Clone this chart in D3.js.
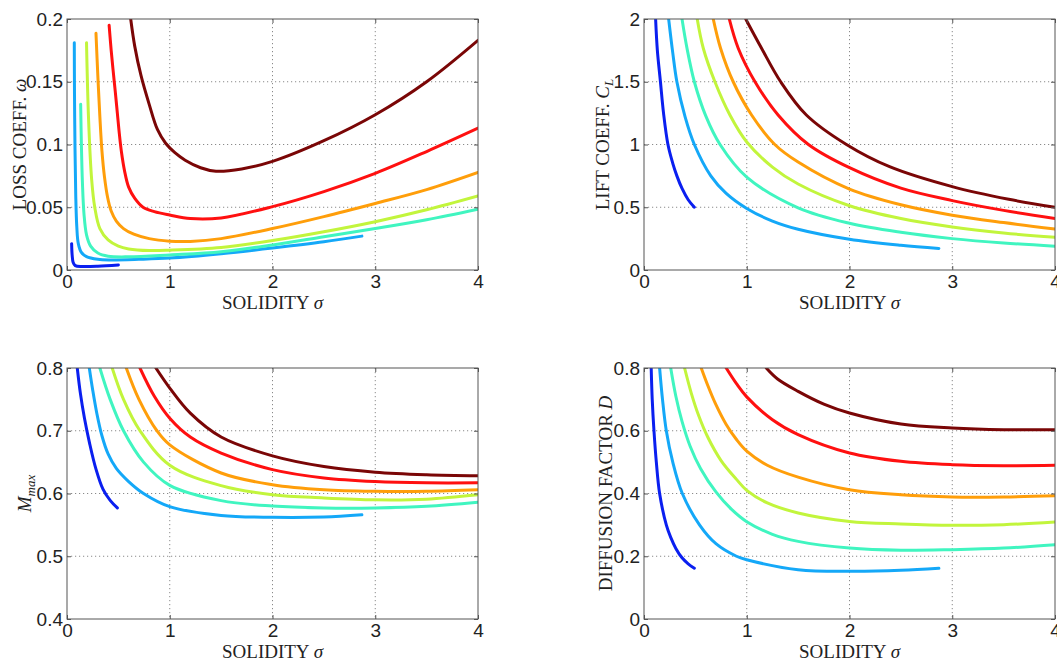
<!DOCTYPE html>
<html>
<head>
<script src="https://d3js.org/d3.v7.min.js"></script>
<style>
  body { margin: 0; background: #fff; }
  .tick text { font: 19px "Liberation Sans", Arial, sans-serif; fill: #222; }
  .tick line { stroke: #555; }
  .grid line { stroke: #8a8a8a; stroke-width: 1; stroke-dasharray: 1.2,2.8; }
  .curve { fill: none; stroke-width: 3; stroke-linejoin: round; stroke-linecap: round; }
  .lbl { font: 19px "Liberation Serif", "Times New Roman", serif; fill: #222; }
</style>
</head>
<body>
<div id="chart"></div>
<script>
// jet-like colours, one per curve (low -> high)
var colors = ["#0a1ff0", "#14a8f8", "#40f5c0", "#c2f53c", "#ff9e0a", "#ff1010", "#7a0606"];

var xTicks = [0, 1, 2, 3, 4];
var lossTicks = [0, 0.05, 0.1, 0.15, 0.2];
var liftTicks = [0, 0.5, 1, 1.5, 2];
var machTicks = [0.4, 0.5, 0.6, 0.7, 0.8];
var diffTicks = [0, 0.2, 0.4, 0.6, 0.8];

// [solidity, value] pairs
var lossCurves = [
  [[0.045,0.021],[0.05,0.012],[0.06,0.006],[0.08,0.0035],[0.15,0.0028],[0.3,0.003],[0.5,0.004]],
  [[0.071,0.181],[0.073,0.14],[0.078,0.096],[0.085,0.06],[0.095,0.035],[0.11,0.021],[0.14,0.014],[0.19,0.0106],[0.3,0.0085],[0.42,0.008],[0.7,0.0085],[1.0,0.0095],[1.5,0.013],[2.0,0.0175],[2.5,0.0225],[2.87,0.027]],
  [[0.133,0.132],[0.14,0.1],[0.15,0.07],[0.165,0.045],[0.19,0.028],[0.23,0.019],[0.3,0.0135],[0.4,0.011],[0.6,0.0105],[1.0,0.012],[1.5,0.0145],[2.0,0.02],[2.5,0.0265],[3.0,0.033],[3.5,0.04],[4.0,0.0484]],
  [[0.19,0.181],[0.21,0.12],[0.24,0.072],[0.27,0.05],[0.32,0.033],[0.4,0.024],[0.5,0.019],[0.6,0.0168],[0.8,0.0155],[1.0,0.0158],[1.5,0.018],[2.0,0.0235],[2.5,0.0305],[3.0,0.0385],[3.5,0.048],[4.0,0.059]],
  [[0.282,0.1886],[0.3,0.155],[0.32,0.122],[0.34,0.095],[0.365,0.074],[0.395,0.058],[0.43,0.047],[0.48,0.039],[0.55,0.033],[0.65,0.0285],[0.8,0.025],[1.0,0.023],[1.2,0.0228],[1.5,0.025],[2.0,0.033],[2.5,0.0425],[3.0,0.053],[3.5,0.064],[4.0,0.0777]],
  [[0.41,0.195],[0.43,0.175],[0.45,0.158],[0.47,0.142],[0.49,0.125],[0.51,0.108],[0.53,0.094],[0.56,0.079],[0.6,0.066],[0.66,0.057],[0.74,0.05],[0.85,0.0465],[1.0,0.0438],[1.2,0.041],[1.5,0.0415],[2.0,0.0505],[2.5,0.0625],[3.0,0.077],[3.5,0.0944],[4.0,0.113]],
  [[0.62,0.2],[0.66,0.178],[0.72,0.155],[0.8,0.132],[0.88,0.112],[0.96,0.101],[1.05,0.0935],[1.15,0.0875],[1.3,0.0815],[1.45,0.0787],[1.7,0.0805],[2.0,0.0865],[2.5,0.103],[3.0,0.1237],[3.5,0.15],[4.0,0.183]]
];

var liftCurves = [
  [[0.113,2.0],[0.13,1.75],[0.16,1.5],[0.19,1.25],[0.233,1.0],[0.28,0.85],[0.32,0.75],[0.37,0.65],[0.43,0.56],[0.49,0.5]],
  [[0.24,2.0],[0.28,1.73],[0.32,1.5],[0.4,1.22],[0.49,1.0],[0.65,0.75],[0.8,0.61],[1.0,0.49],[1.25,0.39],[1.5,0.325],[2.0,0.245],[2.5,0.197],[2.87,0.172]],
  [[0.37,2.0],[0.42,1.76],[0.49,1.5],[0.6,1.23],[0.74,1.0],[1.0,0.74],[1.5,0.495],[2.0,0.372],[2.5,0.3],[3.0,0.25],[3.5,0.215],[4.0,0.19]],
  [[0.518,2.0],[0.577,1.767],[0.69,1.5],[0.836,1.235],[1.0,1.02],[1.25,0.82],[1.5,0.685],[2.0,0.512],[2.5,0.41],[3.0,0.343],[3.5,0.295],[4.0,0.26]],
  [[0.674,2.0],[0.745,1.767],[0.868,1.5],[1.047,1.235],[1.273,1.0],[1.5,0.86],[2.0,0.645],[2.5,0.52],[3.0,0.437],[3.5,0.378],[4.0,0.327]],
  [[0.83,2.0],[0.917,1.767],[1.08,1.5],[1.305,1.235],[1.6,1.0],[2.0,0.815],[2.5,0.652],[3.0,0.553],[3.5,0.475],[4.0,0.41]],
  [[0.99,2.0],[1.144,1.767],[1.33,1.5],[1.58,1.235],[1.97,1.0],[2.39,0.823],[3.0,0.664],[3.55,0.563],[4.0,0.5]]
];

var machCurves = [
  [[0.1,0.8],[0.13,0.76],[0.17,0.72],[0.22,0.68],[0.28,0.64],[0.35,0.607],[0.42,0.589],[0.49,0.577]],
  [[0.217,0.8],[0.25,0.765],[0.29,0.728],[0.34,0.692],[0.4,0.663],[0.48,0.64],[0.6,0.619],[0.745,0.6],[1.0,0.579],[1.5,0.565],[2.0,0.562],[2.5,0.5625],[2.87,0.566]],
  [[0.32,0.8],[0.42,0.75],[0.55,0.7],[0.745,0.65],[1.0,0.613],[1.5,0.5886],[2.0,0.58],[2.5,0.577],[3.0,0.577],[3.5,0.5795],[4.0,0.586]],
  [[0.44,0.8],[0.55,0.75],[0.71,0.7],[1.0,0.645],[1.5,0.6125],[2.0,0.598],[2.5,0.593],[3.0,0.59],[3.5,0.591],[4.0,0.598]],
  [[0.577,0.8],[0.7,0.75],[0.875,0.7],[1.0,0.6775],[1.5,0.6327],[2.0,0.614],[2.5,0.606],[3.0,0.6035],[3.5,0.6035],[4.0,0.606]],
  [[0.71,0.8],[0.85,0.755],[1.0,0.72],[1.2,0.69],[1.5,0.6645],[2.0,0.638],[2.5,0.6247],[3.0,0.619],[3.5,0.617],[4.0,0.617]],
  [[0.865,0.8],[1.0,0.768],[1.2,0.728],[1.5,0.69],[2.0,0.66],[2.5,0.643],[3.0,0.634],[3.5,0.63],[4.0,0.6284]]
];

var diffCurves = [
  [[0.07,0.8],[0.08,0.7],[0.097,0.6],[0.12,0.5],[0.152,0.4],[0.217,0.3],[0.26,0.26],[0.31,0.225],[0.37,0.195],[0.43,0.176],[0.49,0.162]],
  [[0.152,0.8],[0.18,0.7],[0.217,0.6],[0.28,0.5],[0.373,0.4],[0.54,0.3],[0.7,0.24],[0.9,0.2],[1.0,0.189],[1.5,0.157],[2.0,0.152],[2.5,0.155],[2.87,0.1615]],
  [[0.26,0.8],[0.31,0.71],[0.37,0.63],[0.45,0.55],[0.55,0.48],[0.7,0.405],[0.85,0.35],[1.0,0.31],[1.25,0.27],[1.5,0.2475],[2.0,0.226],[2.5,0.219],[3.0,0.221],[3.5,0.226],[4.0,0.237]],
  [[0.395,0.8],[0.46,0.72],[0.53,0.65],[0.62,0.58],[0.75,0.505],[0.9,0.445],[1.0,0.41],[1.2,0.37],[1.5,0.338],[2.0,0.311],[2.5,0.3028],[3.0,0.2985],[3.5,0.3007],[4.0,0.309]],
  [[0.557,0.8],[0.62,0.745],[0.7,0.683],[0.8,0.62],[0.9,0.572],[1.0,0.535],[1.2,0.49],[1.5,0.452],[2.0,0.412],[2.5,0.396],[3.0,0.389],[3.5,0.389],[4.0,0.393]],
  [[0.8,0.8],[0.9,0.75],[1.0,0.708],[1.25,0.635],[1.5,0.5876],[2.0,0.529],[2.5,0.5025],[3.0,0.4919],[3.5,0.4887],[4.0,0.4897]],
  [[1.19,0.8],[1.3,0.765],[1.5,0.7256],[1.75,0.685],[2.0,0.6566],[2.5,0.6215],[3.0,0.6088],[3.5,0.6035],[4.0,0.6035]]
];

var W = 1057, H = 662;
var pw = 411, ph = 251;

// label parts: [text, italic, subscript]
var panels = [
  {id: "p1", left: 67,  top: 19,  curves: lossCurves, yDomain: [0, 0.2], yTicks: lossTicks, labX: 26,
   label: [["LOSS COEFF. ", false, false], ["\u03c9", true, false]]},
  {id: "p2", left: 644, top: 19,  curves: liftCurves, yDomain: [0, 2], yTicks: liftTicks, labX: 609,
   label: [["LIFT COEFF. ", false, false], ["C", true, false], ["L", true, true]]},
  {id: "p3", left: 67,  top: 368, curves: machCurves, yDomain: [0.4, 0.8], yTicks: machTicks, labX: 31,
   label: [["M", true, false], ["max", true, true]]},
  {id: "p4", left: 644, top: 368, curves: diffCurves, yDomain: [0, 0.8], yTicks: diffTicks, labX: 612,
   label: [["DIFFUSION FACTOR ", false, false], ["D", true, false]]}
];

var svg = d3.select("#chart").append("svg")
    .attr("width", W)
    .attr("height", H);

var defs = svg.append("defs");

panels.forEach(function(p) {
    var x = d3.scaleLinear().domain([0, 4]).range([0, pw]);
    var y = d3.scaleLinear().domain(p.yDomain).range([ph, 0]);

    defs.append("clipPath").attr("id", "clip-" + p.id)
        .append("rect").attr("width", pw).attr("height", ph);

    var g = svg.append("g").attr("transform", "translate(" + p.left + "," + p.top + ")");

    // dotted grid
    var grid = g.append("g").attr("class", "grid");
    grid.selectAll(".gx").data(xTicks.slice(1, -1)).enter().append("line")
        .attr("x1", d => x(d)).attr("x2", d => x(d)).attr("y1", 0).attr("y2", ph);
    grid.selectAll(".gy").data(p.yTicks.slice(1, -1)).enter().append("line")
        .attr("y1", d => y(d)).attr("y2", d => y(d)).attr("x1", 0).attr("x2", pw);

    // curves
    var line = d3.line()
        .x(d => x(d[0]))
        .y(d => y(d[1]))
        .curve(d3.curveCatmullRom.alpha(0.5));

    g.append("g").attr("clip-path", "url(#clip-" + p.id + ")")
        .selectAll("path").data(p.curves).enter().append("path")
        .attr("class", "curve")
        .attr("stroke", (d, i) => colors[i])
        .attr("d", line);

    // axes, ticks pointing inward
    var fmt = d3.format("~g");
    g.append("g").attr("transform", "translate(0," + ph + ")")
        .call(d3.axisBottom(x).tickValues(xTicks).tickSize(-4).tickPadding(5).tickFormat(fmt))
        .call(a => a.select(".domain").remove());
    g.append("g")
        .call(d3.axisTop(x).tickValues(xTicks).tickSize(-4).tickFormat(""))
        .call(a => a.select(".domain").remove());
    g.append("g")
        .call(d3.axisLeft(y).tickValues(p.yTicks).tickSize(-4).tickPadding(4).tickFormat(fmt))
        .call(a => a.select(".domain").remove());
    g.append("g").attr("transform", "translate(" + pw + ",0)")
        .call(d3.axisRight(y).tickValues(p.yTicks).tickSize(-4).tickFormat(""))
        .call(a => a.select(".domain").remove());

    g.append("rect")
        .attr("width", pw).attr("height", ph)
        .attr("fill", "none").attr("stroke", "#555").attr("stroke-width", 1);

    // x label
    var xl = g.append("text").attr("class", "lbl")
        .attr("x", pw / 2).attr("y", ph + 39)
        .attr("text-anchor", "middle");
    xl.append("tspan").text("SOLIDITY ");
    xl.append("tspan").attr("font-style", "italic").text("\u03c3");

    // y label (rotated)
    var cy = p.top + ph / 2;
    var yl = svg.append("text").attr("class", "lbl")
        .attr("x", p.labX).attr("y", cy)
        .attr("text-anchor", "middle")
        .attr("transform", "rotate(-90," + p.labX + "," + cy + ")");
    p.label.forEach(function(part) {
        var t = yl.append("tspan").text(part[0]);
        if (part[1]) t.attr("font-style", "italic");
        if (part[2]) t.attr("font-size", "13px").attr("dy", 4);
    });
});
</script>
</body>
</html>
